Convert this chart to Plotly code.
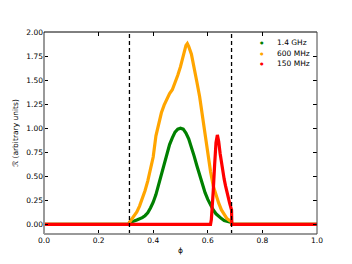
import plotly.graph_objects as go

# ---- data ----
phase_green = [0.0, 0.312, 0.313, 0.32, 0.33, 0.34, 0.35, 0.36, 0.37, 0.38, 0.39, 0.40, 0.41, 0.42,
               0.43, 0.44, 0.45, 0.46, 0.47, 0.48, 0.49, 0.50, 0.51, 0.52, 0.53, 0.54, 0.55,
               0.56, 0.57, 0.58, 0.59, 0.60, 0.61, 0.62, 0.63, 0.64, 0.65, 0.66, 0.67, 0.68,
               0.687, 0.688, 1.0]
green_vals = [0.0, 0.0, 0.02, 0.03, 0.035, 0.045, 0.055, 0.07, 0.09, 0.12, 0.17, 0.23, 0.31, 0.41,
              0.52, 0.63, 0.74, 0.83, 0.90, 0.96, 0.99, 1.00, 0.99, 0.95, 0.89, 0.81, 0.71,
              0.61, 0.51, 0.41, 0.33, 0.26, 0.20, 0.15, 0.11, 0.08, 0.06, 0.04, 0.03, 0.02,
              0.02, 0.0, 0.0]

phase_orange = [0.0, 0.312, 0.313, 0.32, 0.33, 0.34, 0.35, 0.36, 0.37, 0.38, 0.39, 0.40, 0.41,
                0.42, 0.43, 0.44, 0.45, 0.46, 0.47, 0.48, 0.49, 0.50, 0.51, 0.52, 0.525, 0.53,
                0.54, 0.55, 0.56, 0.57, 0.58, 0.59, 0.60, 0.61, 0.62, 0.63, 0.64, 0.65, 0.66,
                0.67, 0.68, 0.687, 0.688, 1.0]
orange_vals = [0.0, 0.0, 0.02, 0.05, 0.08, 0.13, 0.19, 0.26, 0.35, 0.45, 0.56, 0.70, 0.92,
               1.06, 1.16, 1.24, 1.31, 1.36, 1.40, 1.47, 1.55, 1.64, 1.76, 1.86, 1.88, 1.85,
               1.77, 1.60, 1.48, 1.33, 1.12, 0.92, 0.71, 0.55, 0.40, 0.30, 0.22, 0.15, 0.10,
               0.06, 0.04, 0.03, 0.0, 0.0]

phase_red = [0.0, 0.61, 0.613, 0.617, 0.62, 0.625, 0.63, 0.635, 0.64, 0.645, 0.65, 0.655,
             0.66, 0.665, 0.67, 0.675, 0.68, 0.687, 0.688, 1.0]
red_vals = [0.0, 0.0, 0.05, 0.20, 0.35, 0.62, 0.85, 0.93, 0.86, 0.74, 0.64, 0.55,
            0.47, 0.40, 0.33, 0.27, 0.22, 0.15, 0.0, 0.0]

series_names = ["1.4 GHz", "600 MHz", "150 MHz"]
series_colors = ["green", "orange", "red"]
window_edges = [0.313, 0.687]

x_ticks = [0.0, 0.2, 0.4, 0.6, 0.8, 1.0]
x_ticklabels = ["0.0", "0.2", "0.4", "0.6", "0.8", "1.0"]
y_ticks = [0.0, 0.25, 0.5, 0.75, 1.0, 1.25, 1.5, 1.75, 2.0]
y_ticklabels = ["0.00", "0.25", "0.50", "0.75", "1.00", "1.25", "1.50", "1.75", "2.00"]

fig = go.Figure()
for xs, ys, name, col in zip([phase_green, phase_orange, phase_red],
                             [green_vals, orange_vals, red_vals],
                             series_names, series_colors):
    fig.add_trace(go.Scatter(x=xs, y=ys, mode="lines", name=name,
                             line=dict(color=col, width=3.2),
                             showlegend=False, hoverinfo="skip"))

for xe in window_edges:
    fig.add_shape(type="line", xref="x", yref="paper", x0=xe, x1=xe, y0=0, y1=1,
                  line=dict(color="black", width=1.3, dash="4px,3px"), layer="above")

# spines
fig.add_shape(type="line", xref="paper", yref="paper", x0=0, x1=0, y0=0, y1=1,
              line=dict(color="#999999", width=2), layer="above")
fig.add_shape(type="line", xref="paper", yref="paper", x0=0, x1=1, y0=0, y1=0,
              line=dict(color="#999999", width=2), layer="above")
fig.add_shape(type="line", xref="paper", yref="paper", x0=0, x1=1, y0=1, y1=1,
              line=dict(color="black", width=1), layer="above")
fig.add_shape(type="line", xref="paper", yref="paper", x0=1, x1=1, y0=0, y1=1,
              line=dict(color="#444444", width=1), layer="above")

font = dict(family="DejaVu Sans", size=7.5, color="black")

# legend drawn as annotations (compact rows like the reference)
legend_rows_y = [0.950, 0.896, 0.842]
for name, col, yy in zip(series_names, series_colors, legend_rows_y):
    fig.add_annotation(x=0.799, y=yy, xref="paper", yref="paper", text="●",
                       showarrow=False, font=dict(family="DejaVu Sans", size=4, color=col),
                       xanchor="center", yanchor="middle")
    fig.add_annotation(x=0.846, y=yy, xref="paper", yref="paper", text=name,
                       showarrow=False, font=font, xanchor="left", yanchor="middle")

fig.update_layout(
    width=352, height=264,
    margin=dict(l=36, r=43, t=24, b=38),
    paper_bgcolor="white", plot_bgcolor="white",
    font=font,
    showlegend=False,
    xaxis=dict(range=[0, 1], tickvals=x_ticks, ticktext=x_ticklabels, ticks="inside",
               ticklen=4, tickcolor="black", mirror="ticks", showline=False,
               showgrid=False, zeroline=False, automargin=False,
               title=dict(text="ϕ", font=font, standoff=4)),
    yaxis=dict(range=[-0.1, 2.0], tickvals=y_ticks, ticktext=y_ticklabels, ticks="inside",
               ticklen=4, tickcolor="black", mirror="ticks", showline=False,
               showgrid=False, zeroline=False, automargin=False,
               title=dict(text="ℛ (arbitrary units)", font=font, standoff=6)),
)

fig.write_html("out.html")
